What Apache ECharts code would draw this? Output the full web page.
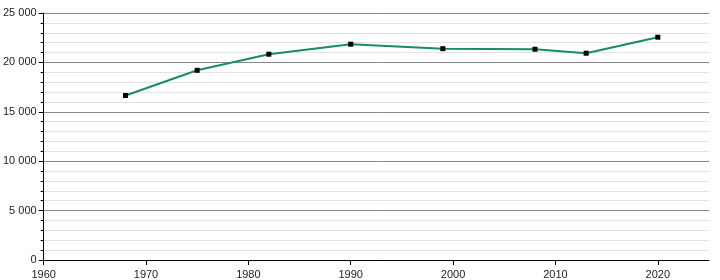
<!DOCTYPE html>
<html>
<head>
<meta charset="utf-8">
<script src="https://cdn.jsdelivr.net/npm/echarts@6/dist/echarts.min.js"></script>
<style>
html,body{margin:0;padding:0;background:#fff;}
#c{width:720px;height:280px;}
</style>
</head>
<body>
<div id="c"></div>
<script>
const years = [1968, 1975, 1982, 1990, 1999, 2008, 2013, 2020];
const population = [16650, 19200, 20830, 21840, 21390, 21330, 20930, 22550];
const xTicks = [1960, 1970, 1980, 1990, 2000, 2010, 2020];
const yTicks = [0, 5000, 10000, 15000, 20000, 25000];

const fmt = v => String(v).replace(/\B(?=(\d{3})+(?!\d))/g, ' ');
const chart = echarts.init(document.getElementById('c'), null, {renderer: 'canvas'});
chart.setOption({
  animation: false,
  backgroundColor: '#fff',
  grid: {left: 42, top: 13, right: 11, bottom: 20, containLabel: false},
  xAxis: {
    type: 'value', min: 1960, max: 2025, interval: 10,
    axisLine: {show: true, onZero: false, lineStyle: {color: '#000', width: 1}},
    axisTick: {show: true, length: 5, inside: false, customValues: xTicks, lineStyle: {color: '#000'}},
    axisLabel: {customValues: xTicks, color: '#222', fontSize: 11, fontFamily: 'Liberation Sans, Arial, sans-serif', margin: 9, formatter: v => String(v)},
    splitLine: {show: false}
  },
  yAxis: {
    type: 'value', min: 0, max: 25000, interval: 5000,
    axisLine: {show: true, lineStyle: {color: '#000', width: 1}},
    axisTick: {show: true, length: 5, lineStyle: {color: '#000'}},
    minorTick: {show: true, splitNumber: 5, length: 3, lineStyle: {color: '#000'}},
    axisLabel: {color: '#222', fontSize: 11, fontFamily: 'Liberation Sans, Arial, sans-serif', margin: 7, formatter: v => fmt(v)},
    splitLine: {show: true, lineStyle: {color: '#888', width: 1}},
    minorSplitLine: {show: true, lineStyle: {color: '#e2e2e2', width: 1}}
  },
  series: [{
    type: 'line',
    data: years.map((y, i) => [y, population[i]]),
    symbol: 'rect', symbolSize: 5,
    itemStyle: {color: '#000'},
    lineStyle: {color: '#178c66', width: 2},
    z: 5
  }]
});
</script>
</body>
</html>
